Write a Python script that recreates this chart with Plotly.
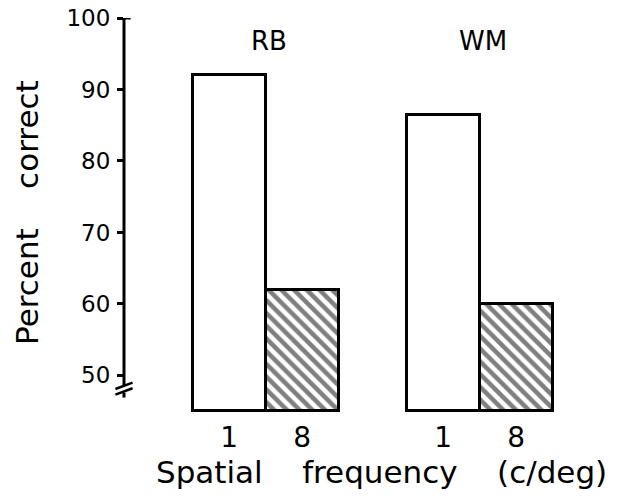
import plotly.graph_objects as go

# ---- data ----
subjects = ["RB", "WM"]
freq_labels = ["1", "8"]
percent_low = [92, 86.5]    # 1 c/deg
percent_high = [62, 60]     # 8 c/deg
y_ticks = [50, 60, 70, 80, 90, 100]
y_tick_labels = ["50", "60", "70", "80", "90", "100"]
axis_floor = 45             # broken axis: bars start here

# layout of bar positions (bar width = 1 unit)
group_start = [1.44, 4.37]
x_low = [g for g in group_start]
x_high = [g + 1 for g in group_start]

FONT = "DejaVu Sans"
SP = "&nbsp;" * 4

fig = go.Figure()
fig.add_trace(go.Bar(
    x=x_low, y=[v - axis_floor for v in percent_low], base=axis_floor, width=1,
    marker=dict(color="white", line=dict(color="black", width=3)),
    showlegend=False,
))
fig.add_trace(go.Bar(
    x=x_high, y=[v - axis_floor for v in percent_high], base=axis_floor, width=1,
    marker=dict(color="white", line=dict(color="black", width=3),
                pattern=dict(shape="\\", fgcolor="black", bgcolor="white",
                             size=9, solidity=0.5)),
    showlegend=False,
))

# subject labels
for s, g in zip(subjects, group_start):
    fig.add_annotation(x=g + 0.55, y=96.8, xref="x", yref="y", text=s,
                       showarrow=False, font=dict(family=FONT, size=26, color="black"))

# axis titles
fig.add_annotation(x=0.542, y=-0.146, xref="paper", yref="paper",
                   text="Spatial" + SP + "frequency" + SP + "(c/deg)",
                   showarrow=False, xanchor="center", yanchor="middle",
                   font=dict(family=FONT, size=31, color="black"))
fig.add_annotation(x=-0.204, y=0.51, xref="paper", yref="paper",
                   text="Percent" + SP + "correct", textangle=-90,
                   showarrow=False, xanchor="center", yanchor="middle",
                   font=dict(family=FONT, size=31, color="black"))

# y axis line with a break near the bottom
fig.add_shape(type="line", xref="paper", yref="y", x0=0, x1=0, y0=48.6, y1=100,
              line=dict(color="black", width=3))
fig.add_shape(type="line", xref="paper", yref="y", x0=-0.002, x1=0.014, y0=100, y1=100,
              line=dict(color="black", width=3))
fig.add_shape(type="line", xref="paper", yref="y", x0=-0.018, x1=0.018, y0=48.1, y1=49.0,
              line=dict(color="black", width=2.5))
fig.add_shape(type="line", xref="paper", yref="y", x0=-0.018, x1=0.018, y0=47.3, y1=48.2,
              line=dict(color="black", width=2.5))
fig.add_shape(type="line", xref="paper", yref="y", x0=0, x1=0, y0=46.9, y1=47.6,
              line=dict(color="black", width=3))

tick_vals = x_low + x_high
tick_text = [freq_labels[0]] * len(x_low) + [freq_labels[1]] * len(x_high)

fig.update_layout(
    width=621, height=496,
    margin=dict(l=124, r=21, t=18, b=82),
    paper_bgcolor="white", plot_bgcolor="white",
    bargap=0,
    font=dict(family=FONT, color="black"),
    xaxis=dict(range=[0, 6.52], showgrid=False, zeroline=False, showline=False,
               tickvals=tick_vals, ticktext=tick_text, ticks="",
               tickfont=dict(size=28), ticklabelstandoff=4, automargin=False),
    yaxis=dict(range=[44.6, 100], showgrid=False, zeroline=False, showline=False,
               tickvals=y_ticks, ticktext=y_tick_labels, ticks="outside",
               ticklen=6, tickwidth=3, tickcolor="black",
               tickfont=dict(size=23), ticklabelstandoff=2, automargin=False),
)

fig.write_html("out.html")
